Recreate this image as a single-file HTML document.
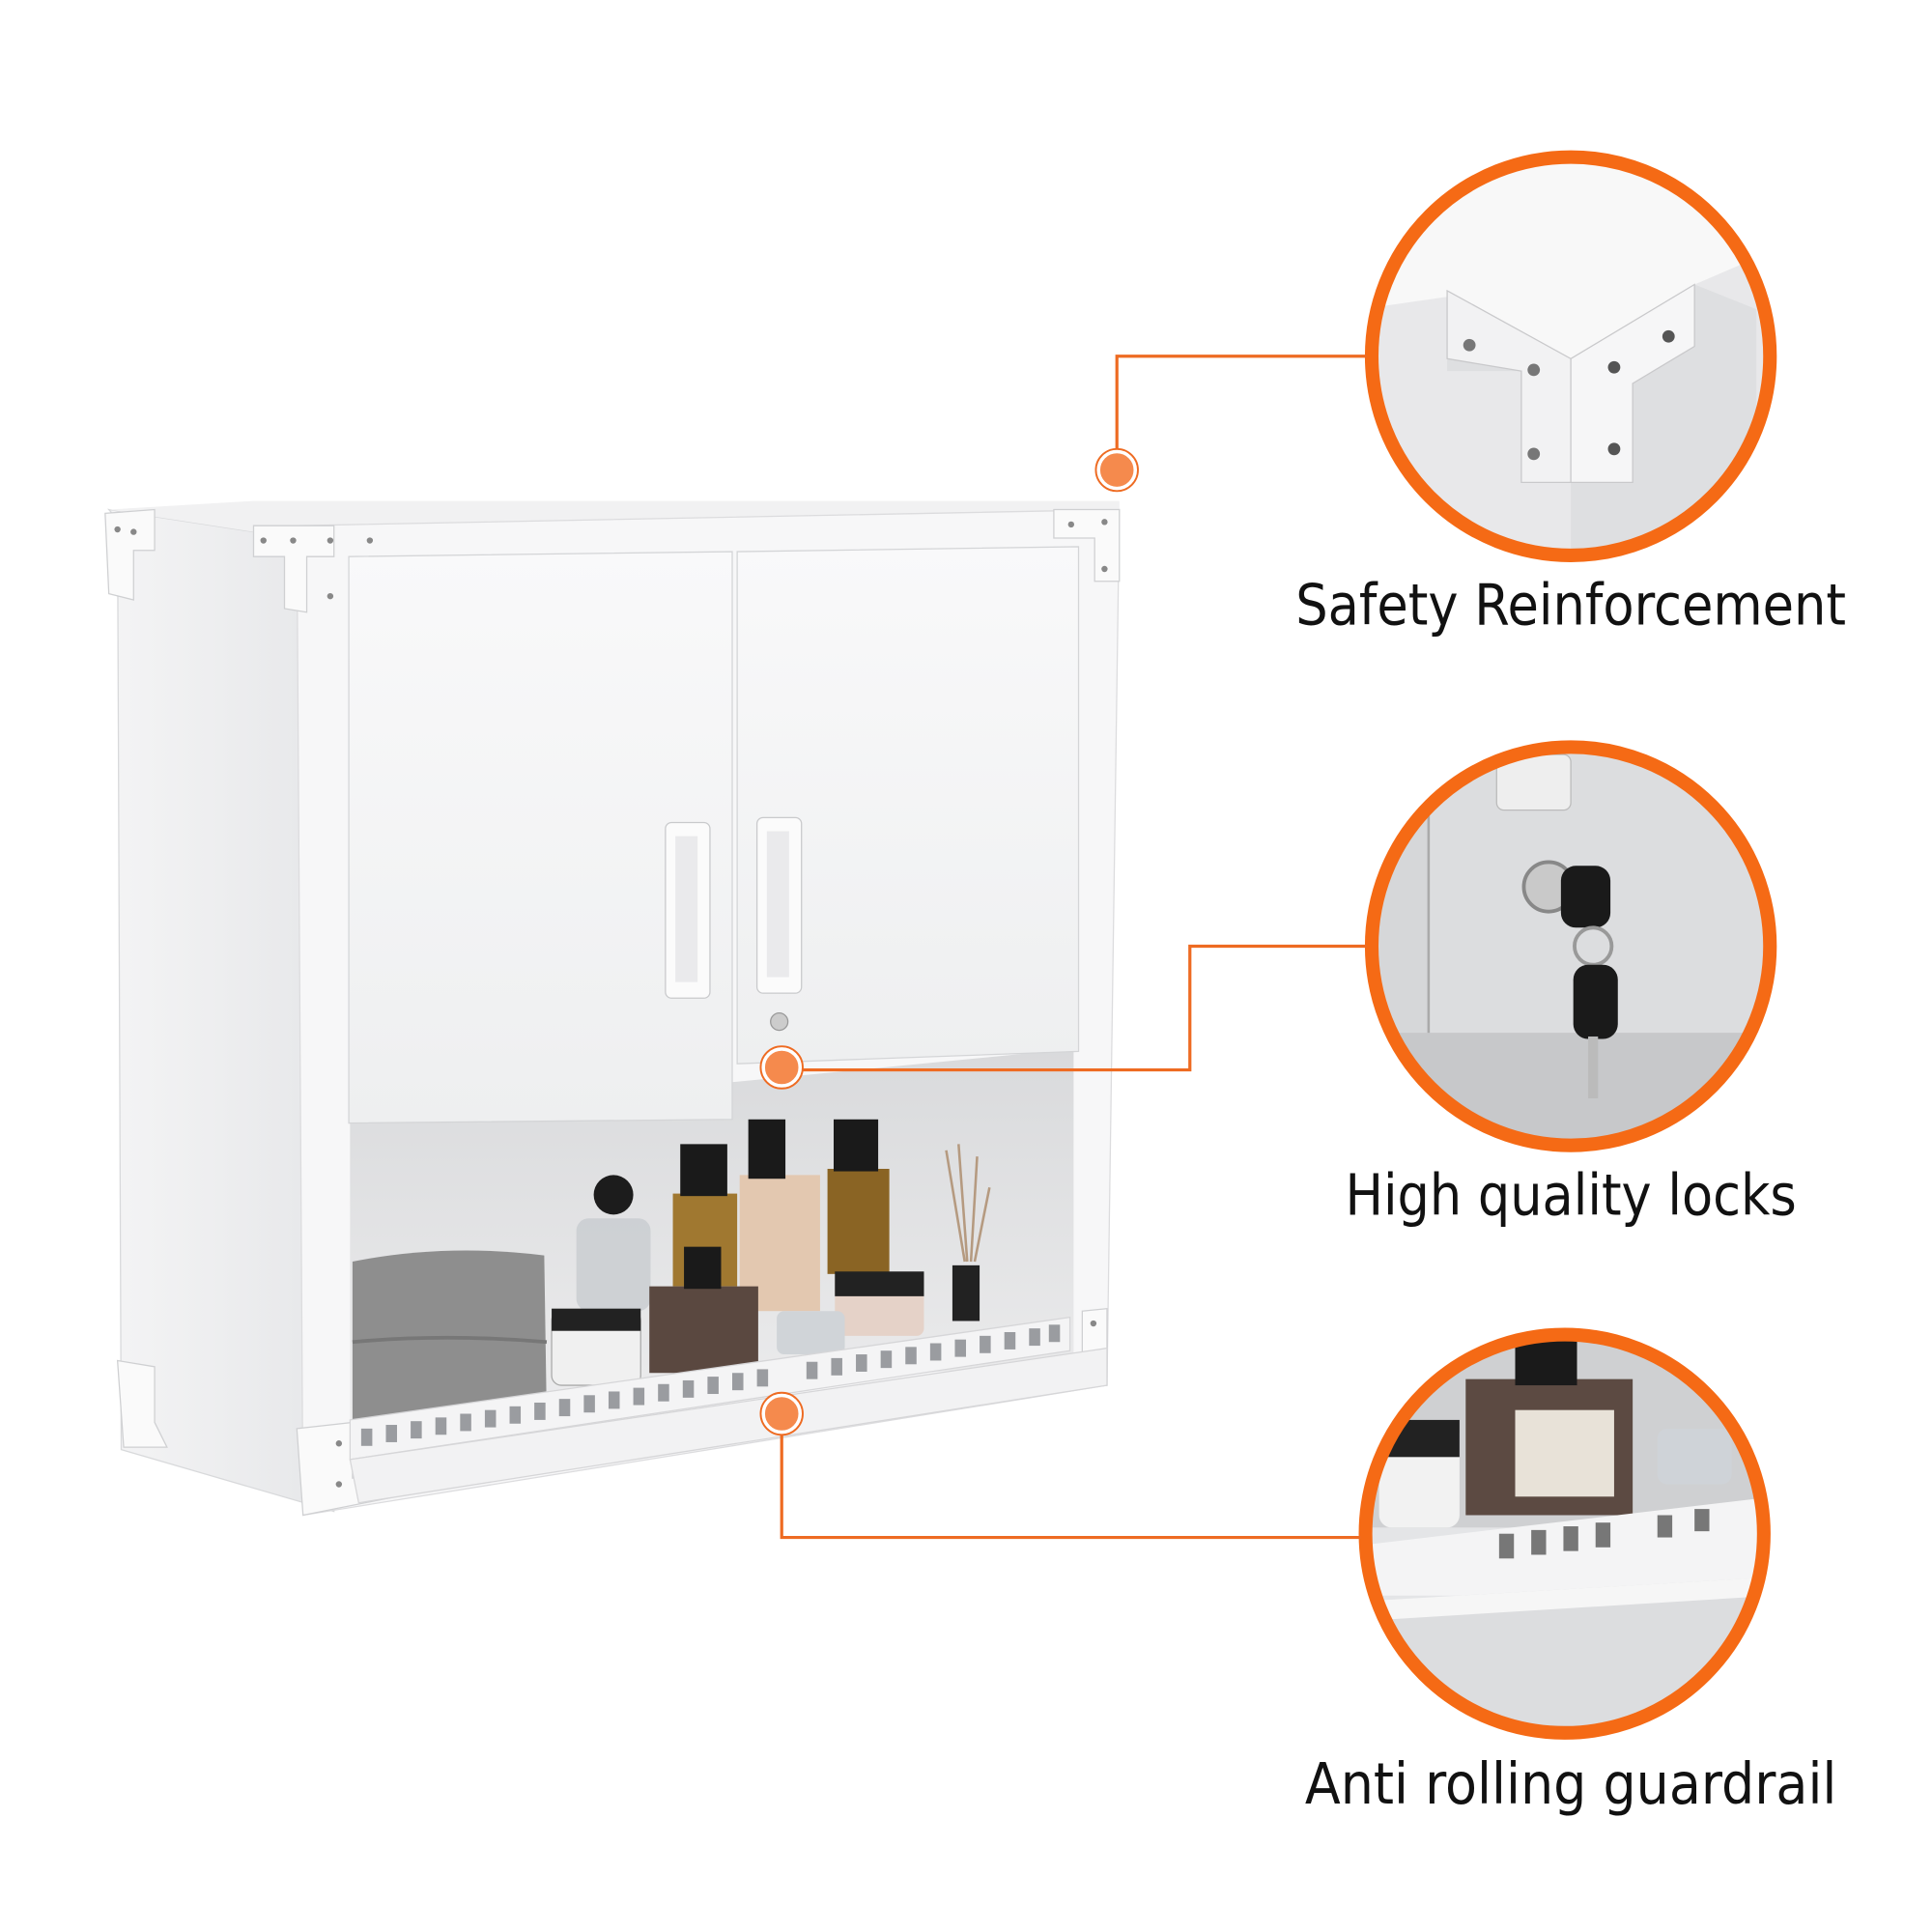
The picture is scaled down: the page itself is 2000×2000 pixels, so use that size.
<!DOCTYPE html>
<html><head><meta charset="utf-8"><style>html,body{margin:0;padding:0;background:#fff}svg{display:block}</style></head><body>
<svg width="2000" height="2000" viewBox="0 0 1562 1562" xmlns="http://www.w3.org/2000/svg" font-family="Liberation Sans, sans-serif">
<defs>
<linearGradient id="side" x1="0" x2="1"><stop offset="0" stop-color="#f4f4f5"/><stop offset="1" stop-color="#e6e7e9"/></linearGradient>
<linearGradient id="door" x1="0" x2="0" y1="0" y2="1"><stop offset="0" stop-color="#f9f9fa"/><stop offset="1" stop-color="#eeeff0"/></linearGradient>
<linearGradient id="inner" x1="0" x2="0" y1="0" y2="1"><stop offset="0" stop-color="#d9dadc"/><stop offset="1" stop-color="#ececed"/></linearGradient>
<clipPath id="c1"><circle cx="1270" cy="288" r="158"/></clipPath>
<clipPath id="c2"><circle cx="1270" cy="765" r="158"/></clipPath>
<clipPath id="c3"><circle cx="1265" cy="1240" r="158"/></clipPath>
</defs>
<rect width="1562" height="1562" fill="#fff"/>
<polygon points="88,412 270,440 270,1222 98,1172 95,420" fill="url(#side)" stroke="#d8d9db"/>
<polygon points="88,412 205,405 905,405 905,418 270,440" fill="#f1f1f2"/>
<polygon points="240,425 905,412 895,1120 245,1225" fill="#f7f7f8" stroke="#dcdcde"/>
<polygon points="283,905 868,848 868,1100 283,1148" fill="url(#inner)"/>
<polygon points="282,450 592,446 592,905 282,908" fill="url(#door)" stroke="#d4d5d7"/>
<polygon points="596,446 872,442 872,850 596,860" fill="url(#door)" stroke="#d4d5d7"/>
<rect x="538" y="665" width="36" height="142" rx="5" fill="#fbfbfb" stroke="#c9cacc"/>
<rect x="546" y="676" width="18" height="118" fill="#eaeaec"/>
<rect x="612" y="661" width="36" height="142" rx="5" fill="#fbfbfb" stroke="#c9cacc"/>
<rect x="620" y="672" width="18" height="118" fill="#eaeaec"/>
<circle cx="630" cy="826" r="7" fill="#ccc" stroke="#999"/>
<!-- corner brackets -->
<g fill="#fafafa" stroke="#cfd0d2">
<polygon points="85,415 125,412 125,445 108,445 108,485 88,480"/>
<polygon points="205,425 270,425 270,450 248,450 248,495 230,492 230,450 205,450"/>
<polygon points="852,412 905,412 905,470 885,470 885,435 852,435"/>
<polygon points="95,1100 125,1105 125,1150 135,1170 100,1170"/>
<polygon points="240,1155 285,1150 285,1195 320,1190 320,1210 245,1225"/>
<polygon points="875,1060 895,1058 895,1120 850,1125 850,1105 875,1100"/>
</g>
<g fill="#888"><circle cx="95" cy="428" r="2.5"/><circle cx="108" cy="430" r="2.5"/><circle cx="213" cy="437" r="2.5"/><circle cx="237" cy="437" r="2.5"/><circle cx="267" cy="437" r="2.5"/><circle cx="299" cy="437" r="2.5"/><circle cx="267" cy="482" r="2.5"/><circle cx="866" cy="424" r="2.5"/><circle cx="893" cy="422" r="2.5"/><circle cx="893" cy="460" r="2.5"/><circle cx="274" cy="1167" r="2.5"/><circle cx="274" cy="1200" r="2.5"/><circle cx="305" cy="1200" r="2.5"/><circle cx="884" cy="1070" r="2.5"/><circle cx="857" cy="1112" r="2.5"/><circle cx="884" cy="1110" r="2.5"/></g>
<!-- items -->
<path d="M285,1020 Q360,1005 440,1015 L442,1145 L285,1148 Z" fill="#8e8e8e"/>
<path d="M285,1085 Q360,1078 442,1085" stroke="#777" stroke-width="3" fill="none"/>
<rect x="466" y="985" width="60" height="75" rx="10" fill="#c8ccd0" opacity=".8"/>
<circle cx="496" cy="966" r="16" fill="#1c1c1c"/>
<rect x="544" y="965" width="52" height="75" fill="#a07830"/>
<rect x="550" y="925" width="38" height="42" fill="#1a1a1a"/>
<rect x="598" y="950" width="65" height="110" fill="#e3c8b0"/>
<rect x="605" y="905" width="30" height="48" fill="#1a1a1a"/>
<rect x="669" y="945" width="50" height="85" fill="#8a6424"/>
<rect x="674" y="905" width="36" height="42" fill="#1a1a1a"/>
<rect x="525" y="1040" width="88" height="70" fill="#5a4840"/>
<rect x="553" y="1008" width="30" height="34" fill="#1a1a1a"/>
<rect x="446" y="1060" width="72" height="60" rx="8" fill="#f0f0f0" stroke="#aaa"/>
<rect x="446" y="1058" width="72" height="18" fill="#222"/>
<rect x="675" y="1030" width="72" height="50" rx="6" fill="#e5d2c8"/>
<rect x="675" y="1028" width="72" height="20" fill="#222"/>
<rect x="628" y="1060" width="55" height="35" rx="6" fill="#d0d4d8"/>
<rect x="770" y="1023" width="22" height="45" fill="#222"/>
<path d="M765,930 L780,1020 M775,925 L782,1020 M790,935 L785,1020 M800,960 L788,1020" stroke="#b59a80" stroke-width="2"/>
<polygon points="283,1148 865,1065 865,1092 283,1180" fill="#f4f4f5" stroke="#d6d6d8"/>
<g fill="#9a9ca0">
<rect x="292" y="1155" width="9" height="14"/><rect x="312" y="1152" width="9" height="14"/><rect x="332" y="1149" width="9" height="14"/><rect x="352" y="1146" width="9" height="14"/><rect x="372" y="1143" width="9" height="14"/><rect x="392" y="1140" width="9" height="14"/><rect x="412" y="1137" width="9" height="14"/><rect x="432" y="1134" width="9" height="14"/><rect x="452" y="1131" width="9" height="14"/><rect x="472" y="1128" width="9" height="14"/><rect x="492" y="1125" width="9" height="14"/><rect x="512" y="1122" width="9" height="14"/><rect x="532" y="1119" width="9" height="14"/><rect x="552" y="1116" width="9" height="14"/><rect x="572" y="1113" width="9" height="14"/><rect x="592" y="1110" width="9" height="14"/><rect x="612" y="1107" width="9" height="14"/><rect x="652" y="1101" width="9" height="14"/><rect x="672" y="1098" width="9" height="14"/><rect x="692" y="1095" width="9" height="14"/><rect x="712" y="1092" width="9" height="14"/><rect x="732" y="1089" width="9" height="14"/><rect x="752" y="1086" width="9" height="14"/><rect x="772" y="1083" width="9" height="14"/><rect x="792" y="1080" width="9" height="14"/><rect x="812" y="1077" width="9" height="14"/><rect x="832" y="1074" width="9" height="14"/><rect x="848" y="1071" width="9" height="14"/>
</g>
<polygon points="283,1180 895,1090 895,1120 290,1215" fill="#f2f2f3" stroke="#d6d6d8"/>
<g clip-path="url(#c1)">
<rect x="1100" y="120" width="340" height="340" fill="#e8e8ea"/>
<polygon points="1100,120 1440,120 1440,200 1370,230 1270,290 1170,240 1100,250" fill="#f8f8f8"/>
<polygon points="1170,235 1270,290 1370,230 1420,250 1420,460 1270,460 1270,390 1230,390 1230,300 1170,300" fill="#dedfe1"/>
<polygon points="1170,235 1270,290 1270,390 1230,390 1230,300 1170,290" fill="#f2f2f3" stroke="#c9c9cb"/>
<polygon points="1270,290 1370,230 1370,280 1320,310 1320,390 1270,390" fill="#f6f6f7" stroke="#c9c9cb"/>
<circle cx="1188" cy="279" r="5" fill="#777"/><circle cx="1240" cy="299" r="5" fill="#777"/><circle cx="1240" cy="367" r="5" fill="#777"/><circle cx="1305" cy="297" r="5" fill="#555"/><circle cx="1349" cy="272" r="5" fill="#555"/><circle cx="1305" cy="363" r="5" fill="#555"/>
</g>
<circle cx="1270" cy="288" r="161" fill="none" stroke="#f56a15" stroke-width="11"/>
<g clip-path="url(#c2)">
<rect x="1100" y="595" width="340" height="340" fill="#d6d7d9"/>
<rect x="1155" y="595" width="270" height="240" fill="#dcdddf"/>
<line x1="1155" y1="600" x2="1155" y2="840" stroke="#aaa" stroke-width="2"/>
<rect x="1210" y="610" width="60" height="45" rx="6" fill="#eee" stroke="#bbb"/>
<rect x="1100" y="835" width="340" height="100" fill="#c7c8ca"/>
<circle cx="1252" cy="717" r="20" fill="#c9c9c9" stroke="#888" stroke-width="3"/>
<rect x="1262" y="700" width="40" height="50" rx="12" fill="#1a1a1a"/>
<circle cx="1288" cy="765" r="15" fill="none" stroke="#999" stroke-width="3"/>
<rect x="1272" y="780" width="36" height="60" rx="12" fill="#1a1a1a"/>
<rect x="1284" y="838" width="8" height="50" fill="#bbb"/>
</g>
<circle cx="1270" cy="765" r="161" fill="none" stroke="#f56a15" stroke-width="11"/>
<g clip-path="url(#c3)">
<rect x="1095" y="1075" width="340" height="340" fill="#e4e5e7"/>
<rect x="1095" y="1075" width="340" height="160" fill="#cfd0d2"/>
<rect x="1185" y="1115" width="135" height="110" fill="#5c4a42"/>
<rect x="1225" y="1075" width="50" height="45" fill="#1a1a1a"/>
<rect x="1225" y="1140" width="80" height="70" fill="#e8e2d8"/>
<rect x="1115" y="1150" width="65" height="85" rx="10" fill="#f2f2f2"/>
<rect x="1115" y="1148" width="65" height="30" fill="#222"/>
<rect x="1340" y="1155" width="60" height="45" rx="8" fill="#cfd3d8"/>
<polygon points="1095,1250 1435,1210 1435,1290 1095,1290" fill="#f4f4f5"/>
<g fill="#777"><rect x="1212" y="1240" width="12" height="20"/><rect x="1238" y="1237" width="12" height="20"/><rect x="1264" y="1234" width="12" height="20"/><rect x="1290" y="1231" width="12" height="20"/><rect x="1340" y="1225" width="12" height="18"/><rect x="1370" y="1220" width="12" height="18"/></g>
<polygon points="1095,1295 1435,1275 1435,1415 1095,1415" fill="#dcdddf"/>
<polygon points="1095,1295 1435,1275 1435,1290 1110,1310" fill="#f6f6f6"/>
</g>
<circle cx="1265" cy="1240" r="161" fill="none" stroke="#f56a15" stroke-width="11"/>
<g stroke="#ee6b22" stroke-width="2.5" fill="none">
<polyline points="1105,288 903,288 903,380"/>
<polyline points="1105,765 962,765 962,865 632,865"/>
<polyline points="632,1143 632,1243 1100,1243"/>
</g>
<g fill="#f58a4d" stroke="#fff" stroke-width="3">
<circle cx="903" cy="380" r="15"/><circle cx="632" cy="863" r="15"/><circle cx="632" cy="1143" r="15"/>
</g>
<g fill="none" stroke="#ee6b22" stroke-width="1.5">
<circle cx="903" cy="380" r="17"/><circle cx="632" cy="863" r="17"/><circle cx="632" cy="1143" r="17"/>
</g>
<g font-size="46" fill="#111" text-anchor="middle" font-family="DejaVu Sans, sans-serif" textLength="">
<text x="1270" y="505" textLength="445" lengthAdjust="spacingAndGlyphs">Safety Reinforcement</text>
<text x="1270" y="982" textLength="365" lengthAdjust="spacingAndGlyphs">High quality locks</text>
<text x="1270" y="1458" textLength="430" lengthAdjust="spacingAndGlyphs">Anti rolling guardrail</text>
</g>
</svg>
</body></html>
